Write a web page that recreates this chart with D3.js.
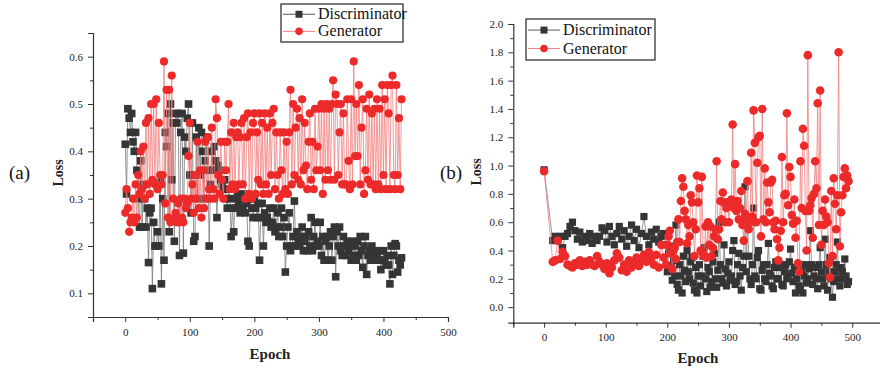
<!DOCTYPE html>
<html>
<head>
<meta charset="utf-8">
<script src="https://cdn.jsdelivr.net/npm/d3@7"></script>
<style>
  body { margin: 0; background: #fff; }
</style>
</head>
<body>
<svg id="chart" width="880" height="372"></svg>
<script>
// ---- data, panel (a) : one point every 2 epochs, 0..428
const leftEpochs = d3.range(0, 429, 2);
const leftDisc = [
  0.415, 0.31, 0.49, 0.47, 0.44, 0.48, 0.42, 0.4, 0.44, 0.36,
  0.3, 0.24, 0.38, 0.24, 0.33, 0.3, 0.24, 0.28, 0.165, 0.27,
  0.28, 0.11, 0.25, 0.2, 0.2, 0.23, 0.2, 0.335, 0.12, 0.3,
  0.17, 0.44, 0.41, 0.48, 0.23, 0.5, 0.34, 0.46, 0.21, 0.48,
  0.46, 0.48, 0.18, 0.44, 0.48, 0.185, 0.43, 0.4, 0.47, 0.5,
  0.35, 0.27, 0.46, 0.21, 0.22, 0.43, 0.3, 0.45, 0.35, 0.44,
  0.4, 0.3, 0.38, 0.43, 0.36, 0.2, 0.33, 0.4, 0.36, 0.41,
  0.38, 0.26, 0.37, 0.36, 0.34, 0.33, 0.32, 0.34, 0.3, 0.28,
  0.32, 0.3, 0.22, 0.28, 0.23, 0.3, 0.28, 0.31, 0.29, 0.27,
  0.3, 0.28, 0.31, 0.27, 0.29, 0.21, 0.2, 0.3, 0.28, 0.26,
  0.3, 0.28, 0.26, 0.29, 0.17, 0.26, 0.29, 0.2, 0.27, 0.25,
  0.26, 0.25, 0.28, 0.24, 0.25, 0.28, 0.23, 0.24, 0.27, 0.22,
  0.24, 0.28, 0.22, 0.26, 0.145, 0.2, 0.24, 0.27, 0.19, 0.2,
  0.22, 0.295, 0.2, 0.23, 0.21, 0.2, 0.22, 0.24, 0.19, 0.21,
  0.22, 0.19, 0.23, 0.2, 0.26, 0.19, 0.22, 0.25, 0.2, 0.21,
  0.2, 0.25, 0.18, 0.22, 0.17, 0.21, 0.22, 0.17, 0.2, 0.23,
  0.17, 0.22, 0.24, 0.135, 0.23, 0.2, 0.24, 0.19, 0.18, 0.22,
  0.2, 0.18, 0.21, 0.19, 0.2, 0.17, 0.21, 0.18, 0.2, 0.17,
  0.21, 0.18, 0.22, 0.19, 0.155, 0.2, 0.22, 0.14, 0.18, 0.19,
  0.17, 0.2, 0.18, 0.17, 0.19, 0.18, 0.17, 0.19, 0.15, 0.17,
  0.19, 0.17, 0.16, 0.18, 0.16, 0.12, 0.2, 0.14, 0.18, 0.205,
  0.2, 0.145, 0.17, 0.16, 0.175
];
const leftGen = [
  0.27, 0.32, 0.28, 0.23, 0.25, 0.26, 0.3, 0.25, 0.33, 0.26,
  0.35, 0.31, 0.4, 0.32, 0.41, 0.3, 0.46, 0.33, 0.47, 0.31,
  0.5, 0.34, 0.5, 0.33, 0.51, 0.32, 0.46, 0.35, 0.33, 0.35,
  0.59, 0.29, 0.53, 0.26, 0.53, 0.25, 0.56, 0.3, 0.26, 0.27,
  0.25, 0.29, 0.25, 0.3, 0.26, 0.25, 0.3, 0.28, 0.29, 0.39,
  0.46, 0.3, 0.33, 0.27, 0.35, 0.3, 0.42, 0.28, 0.36, 0.26,
  0.36, 0.28, 0.42, 0.3, 0.43, 0.32, 0.3, 0.45, 0.32, 0.3,
  0.51, 0.47, 0.35, 0.31, 0.42, 0.34, 0.3, 0.42, 0.36, 0.42,
  0.5, 0.32, 0.44, 0.33, 0.46, 0.32, 0.43, 0.44, 0.33, 0.43,
  0.46, 0.33, 0.47, 0.3, 0.43, 0.48, 0.31, 0.44, 0.3, 0.46,
  0.48, 0.31, 0.44, 0.34, 0.48, 0.33, 0.46, 0.31, 0.48, 0.33,
  0.45, 0.31, 0.48, 0.35, 0.46, 0.49, 0.32, 0.44, 0.35, 0.3,
  0.44, 0.36, 0.31, 0.44, 0.32, 0.42, 0.31, 0.44, 0.53, 0.33,
  0.5, 0.35, 0.45, 0.49, 0.34, 0.47, 0.33, 0.51, 0.36, 0.46,
  0.37, 0.32, 0.42, 0.48, 0.34, 0.42, 0.32, 0.49, 0.36, 0.41,
  0.49, 0.36, 0.5, 0.31, 0.49, 0.34, 0.5, 0.36, 0.49, 0.34,
  0.5, 0.55, 0.34, 0.52, 0.5, 0.35, 0.44, 0.5, 0.33, 0.48,
  0.33, 0.33, 0.51, 0.38, 0.32, 0.51, 0.33, 0.59, 0.39, 0.5,
  0.39, 0.54, 0.33, 0.45, 0.51, 0.31, 0.36, 0.49, 0.34, 0.52,
  0.33, 0.48, 0.33, 0.49, 0.32, 0.51, 0.33, 0.49, 0.32, 0.54,
  0.35, 0.51, 0.32, 0.54, 0.48, 0.32, 0.54, 0.56, 0.35, 0.32,
  0.54, 0.35, 0.47, 0.32, 0.51
];

// ---- data, panel (b) : epoch 0, every 4 epochs 14..198, every 2 epochs 200..494
const rightEpochs = [0].concat(d3.range(14, 199, 4), d3.range(200, 495, 2));
const rightDisc = [
  0.97,
  0.47, 0.5, 0.48, 0.5, 0.42, 0.5, 0.52, 0.57, 0.6, 0.54,
  0.48, 0.53, 0.46, 0.5, 0.47, 0.52, 0.45, 0.5, 0.47, 0.5,
  0.56, 0.54, 0.46, 0.57, 0.5, 0.44, 0.52, 0.57, 0.48, 0.54,
  0.43, 0.5, 0.58, 0.47, 0.55, 0.42, 0.52, 0.64, 0.5, 0.44,
  0.53, 0.48, 0.55, 0.46, 0.5, 0.52, 0.44,
  0.25, 0.38, 0.43, 0.28, 0.19, 0.33, 0.22, 0.58, 0.16, 0.12,
  0.3, 0.22, 0.1, 0.36, 0.26, 0.18, 0.4, 0.25, 0.2, 0.32,
  0.35, 0.17, 0.12, 0.28, 0.1, 0.22, 0.3, 0.15, 0.22, 0.36,
  0.42, 0.2, 0.11, 0.28, 0.25, 0.14, 0.18, 0.32, 0.38, 0.2,
  0.14, 0.26, 0.6, 0.3, 0.2, 0.17, 0.44, 0.27, 0.15, 0.24,
  0.32, 0.19, 0.22, 0.4, 0.47, 0.16, 0.18, 0.3, 0.38, 0.22,
  0.12, 0.28, 0.36, 0.85, 0.25, 0.6, 0.36, 0.2, 0.16, 0.3,
  0.7, 0.22, 0.2, 0.35, 0.4, 0.13, 0.12, 0.26, 0.3, 0.2,
  0.18, 0.3, 0.45, 0.24, 0.22, 0.15, 0.13, 0.28, 0.32, 0.2,
  0.2, 0.3, 0.28, 0.16, 0.15, 0.25, 0.3, 0.2, 0.22, 0.32,
  0.41, 0.24, 0.18, 0.28, 0.1, 0.2, 0.27, 0.15, 0.12, 0.25,
  0.1, 0.22, 0.3, 0.17, 0.2, 0.27, 0.54, 0.3, 0.16, 0.22,
  0.28, 0.2, 0.13, 0.3, 0.42, 0.25, 0.2, 0.15, 0.48, 0.3,
  0.12, 0.25, 0.35, 0.2, 0.07, 0.18, 0.25, 0.3, 0.46, 0.2,
  0.15, 0.28, 0.25, 0.2, 0.34, 0.22, 0.16, 0.18
];
const rightGen = [
  0.96,
  0.32, 0.33, 0.47, 0.34, 0.39, 0.36, 0.3, 0.29, 0.28, 0.31,
  0.3, 0.33, 0.29, 0.32, 0.3, 0.33, 0.3, 0.29, 0.36, 0.32,
  0.3, 0.27, 0.31, 0.24, 0.28, 0.33, 0.38, 0.35, 0.26, 0.3,
  0.25, 0.33, 0.28, 0.31, 0.35, 0.29, 0.33, 0.37, 0.32, 0.39,
  0.35, 0.3, 0.37, 0.28, 0.44, 0.35, 0.3,
  0.44, 0.5, 0.54, 0.38, 0.27, 0.4, 0.42, 0.34, 0.46, 0.62,
  0.46, 0.75, 0.91, 0.85, 0.68, 0.62, 0.45, 0.58, 0.5, 0.79,
  0.74, 0.6, 0.36, 0.55, 0.93, 0.74, 0.84, 0.4, 0.92, 0.38,
  0.36, 0.57, 0.35, 0.6, 0.44, 0.57, 0.36, 0.42, 0.5, 0.55,
  1.03, 0.48, 0.55, 0.75, 0.62, 0.81, 0.74, 0.6, 0.7, 0.74,
  0.6, 0.72, 0.76, 1.29, 0.7, 1.01, 0.68, 0.75, 0.62, 0.7,
  0.82, 0.58, 0.47, 0.66, 0.62, 0.89, 0.55, 0.6, 1.09, 0.64,
  1.39, 1.16, 0.6, 1.02, 1.2, 1.21, 0.5, 1.4, 0.62, 0.98,
  0.6, 0.88, 0.74, 0.67, 0.88, 0.9, 0.6, 0.55, 0.61, 0.48,
  0.33, 0.42, 0.54, 1.06, 0.6, 0.79, 0.8, 1.37, 0.72, 0.99,
  0.92, 0.65, 0.59, 0.76, 0.49, 0.61, 0.31, 0.25, 1.03, 0.7,
  1.26, 1.14, 0.68, 0.4, 1.78, 0.68, 0.72, 0.77, 0.49, 0.8,
  1.03, 0.84, 1.44, 0.58, 1.53, 0.44, 0.68, 0.58, 0.76, 0.64,
  0.6, 0.31, 0.21, 0.82, 0.36, 0.91, 0.73, 0.55, 0.79, 1.8,
  0.43, 0.67, 0.79, 0.92, 0.98, 0.84, 0.93, 0.89
];

const xTicks = [0, 100, 200, 300, 400, 500];
const leftYTicks = [0.1, 0.2, 0.3, 0.4, 0.5, 0.6];
const rightYTicks = [0.0, 0.2, 0.4, 0.6, 0.8, 1.0, 1.2, 1.4, 1.6, 1.8, 2.0];
const seriesNames = ["Discriminator", "Generator"];

const serif = "'Liberation Serif', 'DejaVu Serif', 'Times New Roman', serif";
const discColor = "#353535";
const genColor = "#ec2a2a";
const discLine = "#7a7a7a";
const genLine = "#f27f7f";

const svg = d3.select("#chart");

function drawPanel(p) {
  const x = d3.scaleLinear().domain(p.xDomain).range(p.xRange);
  const y = d3.scaleLinear().domain(p.yDomain).range(p.yRange);
  const g = svg.append("g");

  // axes
  const xAxis = g.append("g")
    .attr("transform", `translate(0,${p.yRange[0]})`)
    .call(d3.axisBottom(x).tickValues(xTicks).tickFormat(d3.format("d")).tickSize(5).tickPadding(6));
  const xMinor = g.append("g")
    .attr("transform", `translate(0,${p.yRange[0]})`)
    .call(d3.axisBottom(x).tickValues(xTicks.map(t => t - 50)).tickFormat("").tickSize(3));
  const yAxis = g.append("g")
    .attr("transform", `translate(${p.xRange[0]},0)`)
    .call(d3.axisLeft(y).tickValues(p.yTicks).tickFormat(d3.format(".1f")).tickSize(5).tickPadding(5));
  const yMinor = g.append("g")
    .attr("transform", `translate(${p.xRange[0]},0)`)
    .call(d3.axisLeft(y).tickValues(p.yMinor).tickFormat("").tickSize(3));
  [xAxis, xMinor, yAxis, yMinor].forEach(a => {
    a.attr("font-family", serif);
    a.select(".domain").attr("stroke", "#333").attr("stroke-width", 1.2);
    a.selectAll(".tick line").attr("stroke", "#333");
    a.selectAll(".tick text").style("font-family", serif).style("font-size", "11px").attr("fill", "#222");
  });
  xMinor.select(".domain").remove();
  yMinor.select(".domain").remove();

  const series = [
    { vals: p.disc, color: discColor, lineColor: discLine, shape: "square" },
    { vals: p.gen, color: genColor, lineColor: genLine, shape: "circle" }
  ];
  const line = d3.line().x(d => x(d[0])).y(d => y(d[1]));
  series.forEach(s => {
    const pts = p.epochs.map((e, i) => [e, s.vals[i]]);
    g.append("path").datum(pts)
      .attr("d", line)
      .attr("fill", "none")
      .attr("stroke", s.lineColor)
      .attr("stroke-width", 0.8);
    if (s.shape === "square") {
      g.append("g").selectAll("rect").data(pts).join("rect")
        .attr("x", d => x(d[0]) - p.sq / 2)
        .attr("y", d => y(d[1]) - p.sq / 2)
        .attr("width", p.sq).attr("height", p.sq)
        .attr("fill", s.color);
    } else {
      g.append("g").selectAll("circle").data(pts).join("circle")
        .attr("cx", d => x(d[0]))
        .attr("cy", d => y(d[1]))
        .attr("r", p.r)
        .attr("fill", s.color);
    }
  });

  // legend
  const lg = g.append("g").attr("transform", `translate(${p.legend[0]},${p.legend[1]})`);
  lg.append("rect").attr("width", p.legend[2]).attr("height", p.legend[3])
    .attr("fill", "#fff").attr("stroke", "#333").attr("stroke-width", 1.3);
  seriesNames.forEach((name, i) => {
    const cy = p.legend[3] * (i === 0 ? 0.27 : 0.72);
    lg.append("line").attr("x1", 2).attr("x2", 34).attr("y1", cy).attr("y2", cy)
      .attr("stroke", i === 0 ? "#555" : genLine).attr("stroke-width", 1);
    if (i === 0) {
      lg.append("rect").attr("x", 14.5).attr("y", cy - 3.5).attr("width", 7).attr("height", 7).attr("fill", discColor);
    } else {
      lg.append("circle").attr("cx", 18).attr("cy", cy).attr("r", 3.8).attr("fill", genColor);
    }
    lg.append("text").attr("x", 37).attr("y", cy + 5)
      .style("font-family", serif).style("font-size", "16px").attr("fill", "#111").text(name);
  });

  // labels
  g.append("text").attr("x", p.tag[0]).attr("y", p.tag[1])
    .style("font-family", serif).style("font-size", "19px").attr("fill", "#111").text(p.tagText);
  g.append("text")
    .attr("transform", `translate(${p.yLabel[0]},${p.yLabel[1]}) rotate(-90)`)
    .attr("text-anchor", "middle")
    .style("font-family", serif).style("font-size", "14px").style("font-weight", "bold").attr("fill", "#222")
    .text("Loss");
  g.append("text").attr("x", p.xLabel[0]).attr("y", p.xLabel[1])
    .attr("text-anchor", "middle")
    .style("font-family", serif).style("font-size", "15px").style("font-weight", "bold").attr("fill", "#222")
    .text("Epoch");
}

drawPanel({
  epochs: leftEpochs, disc: leftDisc, gen: leftGen,
  xDomain: [-50, 500], xRange: [93, 448],
  yDomain: [0.05, 0.65], yRange: [317, 33],
  yTicks: leftYTicks, yMinor: [0.05, 0.15, 0.25, 0.35, 0.45, 0.55, 0.65],
  sq: 7.6, r: 4.1,
  legend: [281, 4, 122, 38],
  tag: [9, 179], tagText: "(a)",
  yLabel: [63, 173], xLabel: [270, 359]
});

drawPanel({
  epochs: rightEpochs, disc: rightDisc, gen: rightGen,
  xDomain: [-50, 550], xRange: [513.3, 883],
  yDomain: [-0.11, 2.0], yRange: [322.7, 24],
  yTicks: rightYTicks, yMinor: [0.1, 0.3, 0.5, 0.7, 0.9, 1.1, 1.3, 1.5, 1.7, 1.9],
  sq: 7.2, r: 4.3,
  legend: [526, 19, 129, 41],
  tag: [440, 179], tagText: "(b)",
  yLabel: [481, 172], xLabel: [698, 363]
});
</script>
</body>
</html>
